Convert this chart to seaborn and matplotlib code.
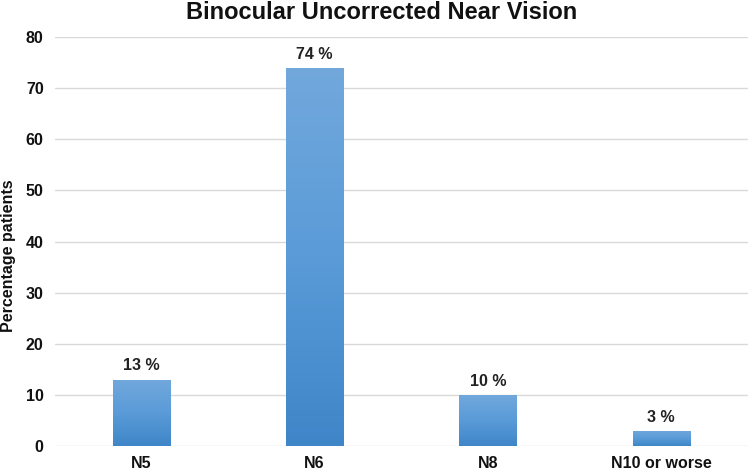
import matplotlib
matplotlib.use("Agg")
import matplotlib.pyplot as plt
import seaborn as sns
import numpy as np
import pandas as pd
from matplotlib.colors import LinearSegmentedColormap
from matplotlib import font_manager

categories = ["N5", "N6", "N8", "N10 or worse"]
values = [13, 74, 10, 3]
labels = ["13 %", "74 %", "10 %", "3 %"]
yticks = [0, 10, 20, 30, 40, 50, 60, 70, 80]

sns.set_theme(style="white")
names = {f.name for f in font_manager.fontManager.ttflist}
narrow = "Liberation Sans Narrow" if "Liberation Sans Narrow" in names else "Liberation Sans"
plt.rcParams['font.family'] = ['Liberation Sans', 'DejaVu Sans']

df = pd.DataFrame({"cat": categories, "val": values})

fig = plt.figure(figsize=(7.5, 4.7), dpi=100)
ax = fig.add_axes([0.073, 0.051, 0.924, 0.870])

sns.barplot(data=df, x="cat", y="val", ax=ax, width=0.33, color="#5b9bd5",
            edgecolor="#8fb8e0", linewidth=0.6, zorder=2)

ax.set_xlim(-0.5, 3.5)
ax.set_ylim(0, 80)
ax.set_yticks(yticks)
ax.yaxis.grid(True, color="#d9d9d9", linewidth=1, zorder=0)
ax.set_axisbelow(True)
for s in ["top", "right", "left", "bottom"]:
    ax.spines[s].set_visible(False)

# gradient fill
cmap = LinearSegmentedColormap.from_list("g", ["#3f86c8", "#5a9bd8", "#72a8dc"])
grad = np.linspace(0, 1, 256).reshape(-1, 1)
for p in ax.patches:
    x0, y0 = p.get_x(), p.get_y()
    w, h = p.get_width(), p.get_height()
    im = ax.imshow(grad, cmap=cmap, origin="lower", aspect="auto",
                   extent=[x0, x0 + w, y0, y0 + h], zorder=2.5)
    im.set_clip_path(p)
ax.set_xlim(-0.5, 3.5)
ax.set_ylim(0, 80)

fam = [narrow, 'DejaVu Sans']
for p, lab in zip(ax.patches, labels):
    ax.text(p.get_x() + p.get_width() / 2, p.get_height() + 1.2, lab,
            ha="center", va="bottom", fontsize=11.5, fontweight="bold",
            color="#222222", family=fam)

ax.set_xlabel("")
ax.set_ylabel("")
fig.text(0.012, 0.457, "Percentage patients", rotation=90, ha="center", va="center",
         fontsize=11.5, fontweight="bold", color="#111111", family=fam)
ax.tick_params(axis="both", length=0, colors="#111111")
for t in ax.get_xticklabels() + ax.get_yticklabels():
    t.set_fontweight("bold")
    t.set_fontsize(11.5)
    t.set_family(fam)
ax.tick_params(axis="x", pad=7)
ax.tick_params(axis="y", pad=8)

fig.suptitle("Binocular Uncorrected Near Vision", fontsize=17, fontweight="bold",
             x=0.509, y=0.998, va="top", color="#111111")

fig.savefig("out.png", dpi=100)
